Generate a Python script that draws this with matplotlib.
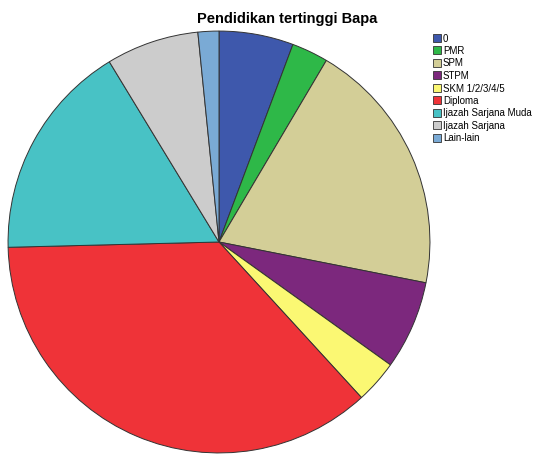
import matplotlib.pyplot as plt
from matplotlib.patches import Rectangle

plt.rcParams['font.family'] = ['Liberation Sans', 'DejaVu Sans']

labels = ["0", "PMR", "SPM", "STPM", "SKM 1/2/3/4/5", "Diploma",
          "Ijazah Sarjana Muda", "Ijazah Sarjana", "Lain-lain"]
values = [5.7, 2.8, 19.6, 6.8, 3.3, 36.4, 16.7, 7.1, 1.6]
colors = ["#3E58AC", "#2EB848", "#D3CE97", "#7C287D", "#FBF873",
          "#EF3338", "#48C2C5", "#CCCCCC", "#7AAAD5"]

W, H = 539, 456
fig = plt.figure(figsize=(W / 100, H / 100), dpi=100)

# pie centre (219, 243) px, radius 212 px
cx, cy, r = 219, 243, 212
ax = fig.add_axes([(cx - r) / W, (H - cy - r) / H, 2 * r / W, 2 * r / H])
ax.pie(values, colors=colors, startangle=90, counterclock=False, radius=1,
       wedgeprops=dict(edgecolor="#333333", linewidth=0.7))
ax.set_xlim(-1.005, 1.005)
ax.set_ylim(-1.005, 1.005)
ax.set_aspect("equal")
ax.axis("off")

fig.text(287 / W, 1 - 19 / H, "Pendidikan tertinggi Bapa", ha="center",
         va="center", fontsize=10.5, fontweight="bold")

# legend drawn by hand
for i, (lab, col) in enumerate(zip(labels, colors)):
    yc = 38.5 + i * 12.5
    fig.patches.append(Rectangle((433 / W, 1 - (yc + 4) / H), 8 / W, 8 / H,
                                 transform=fig.transFigure, facecolor=col,
                                 edgecolor="#333333", linewidth=0.6))
    fig.text(443 / W, 1 - yc / H, lab, ha="left", va="center", fontsize=7)

fig.savefig("out.png", dpi=100)
